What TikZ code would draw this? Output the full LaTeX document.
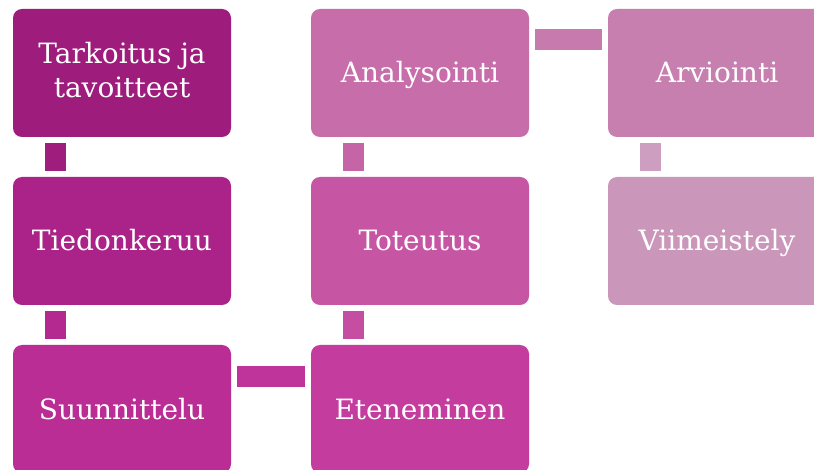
\documentclass[tikz,border=0pt]{standalone}
\usepackage{fontspec}
\setmainfont{DejaVu Serif}
\usepackage{xcolor}

\definecolor{s1}{HTML}{9E1C7C}
\definecolor{s2}{HTML}{AB2388}
\definecolor{s3}{HTML}{BA2D95}
\definecolor{s4}{HTML}{C53C9F}
\definecolor{s5}{HTML}{C656A4}
\definecolor{s6}{HTML}{C66DAA}
\definecolor{s7}{HTML}{C77FAF}
\definecolor{s8}{HTML}{CA96BA}

\begin{document}
\begin{tikzpicture}[
    x=1pt, y=1pt,
    stage/.style={rectangle, rounded corners=9pt, minimum width=218pt, minimum height=128pt,
        inner sep=0pt, text=white, align=center, font=\fontsize{28}{34}\selectfont,
        execute at begin node={\rule{0pt}{27pt}},
        execute at end node={\rule[-7pt]{0pt}{7pt}}},
    link/.style={draw=none}
]

% Rajaus
\fill[white] (0,0) rectangle (814,-470);
\clip (0,0) rectangle (814,-470);

% Vaiheet
\node[stage, fill=s1] (tarkoitus) at (122,-73) {Tarkoitus ja\\tavoitteet};
\node[stage, fill=s2] (tiedon) at (122,-241) {Tiedonkeruu};
\node[stage, fill=s3] (suunn) at (122,-409) {Suunnittelu};
\node[stage, fill=s4] (eten) at (420,-409) {Eteneminen};
\node[stage, fill=s5] (toteutus) at (420,-241) {Toteutus};
\node[stage, fill=s6] (analys) at (420,-73) {Analysointi};
\node[stage, fill=s7] (arvio) at (717,-73) {Arviointi};
\node[stage, fill=s8] (viim) at (717,-241) {Viimeistely};

% Pystysuorat liitokset
\fill[link, fill=s1!90!s2] ([shift={(32,-6)}]tarkoitus.south west) rectangle ([shift={(53,6)}]tiedon.north west);
\fill[link, fill=s2!40!s3] ([shift={(32,-6)}]tiedon.south west) rectangle ([shift={(53,6)}]suunn.north west);
\fill[link, fill=s4!30!s5] ([shift={(32,-6)}]toteutus.south west) rectangle ([shift={(53,6)}]eten.north west);
\fill[link, fill=s5!40!s6] ([shift={(32,-6)}]analys.south west) rectangle ([shift={(53,6)}]toteutus.north west);
\fill[link, fill=s8!92!white] ([shift={(32,-6)}]arvio.south west) rectangle ([shift={(53,6)}]viim.north west);

% Vaakasuorat liitokset
\fill[link, fill=s3!50!s4] ([shift={(6,-21)}]suunn.north east) rectangle ([shift={(-6,-42)}]eten.north west);
\fill[link, fill=s6!30!s7] ([shift={(6,-20)}]analys.north east) rectangle ([shift={(-6,-41)}]arvio.north west);

\end{tikzpicture}
\end{document}
